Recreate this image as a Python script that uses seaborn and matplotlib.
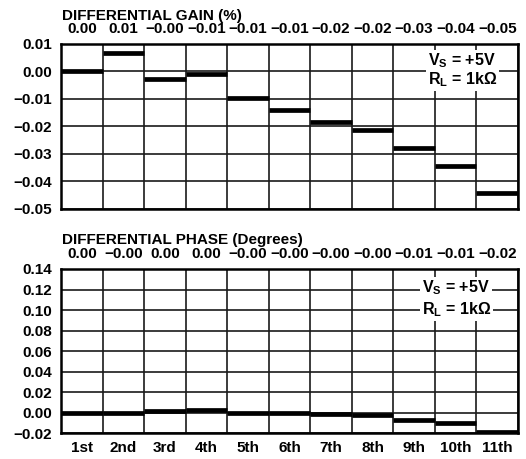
import matplotlib
matplotlib.use("Agg")
import matplotlib.pyplot as plt
import seaborn as sns
import pandas as pd
import numpy as np

# values
harmonics = ["1st", "2nd", "3rd", "4th", "5th", "6th", "7th", "8th", "9th", "10th", "11th"]
gain = [0.0, 0.0068, -0.0029, -0.0010, -0.0097, -0.0140, -0.0185, -0.0211, -0.0279, -0.0345, -0.0442]
phase = [0.0, 0.0, 0.0020, 0.0030, 0.0, -0.0002, -0.0015, -0.0020, -0.0067, -0.0102, -0.0184]
gain_labels = ["0.00", "0.01", "\u22120.00", "\u22120.01", "\u22120.01", "\u22120.01",
               "\u22120.02", "\u22120.02", "\u22120.03", "\u22120.04", "\u22120.05"]
phase_labels = ["0.00", "\u22120.00", "0.00", "0.00", "\u22120.00", "\u22120.00",
                "\u22120.00", "\u22120.00", "\u22120.01", "\u22120.01", "\u22120.02"]
gain_ticks = [-0.05, -0.04, -0.03, -0.02, -0.01, 0.00, 0.01]
phase_ticks = [-0.02, 0.00, 0.02, 0.04, 0.06, 0.08, 0.10, 0.12, 0.14]

FS = 11

sns.set_theme(style="white")
plt.rcParams["font.family"] = ["Liberation Sans", "DejaVu Sans"]
plt.rcParams["font.weight"] = "bold"
plt.rcParams["text.color"] = "black"
plt.rcParams["xtick.color"] = "black"
plt.rcParams["ytick.color"] = "black"
plt.rcParams["mathtext.fontset"] = "custom"
plt.rcParams["mathtext.rm"] = "Liberation Sans:bold"
plt.rcParams["mathtext.default"] = "rm"


def segments(values):
    # one flat segment per harmonic column, from left edge to right edge
    rows = []
    for i, v in enumerate(values):
        rows.append({"pos": i, "value": v, "seg": i})
        rows.append({"pos": i + 1, "value": v, "seg": i})
    return pd.DataFrame(rows)


def style_axes(ax, yticks):
    n = len(harmonics)
    ax.set_xlim(0, n)
    ax.set_ylim(yticks[0], yticks[-1])
    ax.set_xticks(range(n + 1))
    ax.set_xticks(np.arange(n) + 0.5, minor=True)
    ax.set_yticks(yticks)
    ax.set_yticklabels([f"{t:.2f}".replace("-", "\u2212") for t in yticks], fontsize=FS, fontweight="bold")
    ax.tick_params(which="both", length=0)
    ax.tick_params(axis="y", pad=6.5)
    ax.grid(True, which="major", color="#1a1a1a", linewidth=1.2)
    ax.set_axisbelow(True)
    for s in ax.spines.values():
        s.set_color("black")
        s.set_linewidth(1.8)
    for ln in ax.get_lines():
        ln.set_solid_capstyle("butt")
    ax.set_xlabel("")
    ax.set_ylabel("")


fig = plt.figure(figsize=(5.26, 4.59), dpi=100)
box = dict(facecolor="white", edgecolor="none", pad=1.5)

# Differential gain
ax1 = fig.add_axes([0.116, 0.5447, 0.8688, 0.3595])
sns.lineplot(data=segments(gain), x="pos", y="value", units="seg", estimator=None,
             color="black", linewidth=3.4, ax=ax1, zorder=3)
style_axes(ax1, gain_ticks)
ax1.xaxis.tick_top()
ax1.set_xticklabels([])
ax1.set_xticklabels(gain_labels, minor=True, fontsize=FS, fontweight="bold")
ax1.tick_params(axis="x", which="minor", pad=6)
ax1.text(0.003, 1.148, "DIFFERENTIAL GAIN (%)", transform=ax1.transAxes,
         fontsize=FS, fontweight="bold", ha="left", va="baseline")
ax1.text(0.803, 0.897, r"V$_\mathrm{S}$ = +5V", transform=ax1.transAxes, fontsize=FS + 0.5,
         fontweight="bold", ha="left", va="center", bbox=box, zorder=4)
ax1.text(0.803, 0.782, "R$_\\mathrm{L}$ = 1k\u03a9", transform=ax1.transAxes,
         fontsize=FS + 0.5, fontweight="bold", ha="left", va="center", bbox=box, zorder=4)

# Differential phase
ax2 = fig.add_axes([0.116, 0.0560, 0.8688, 0.358])
sns.lineplot(data=segments(phase), x="pos", y="value", units="seg", estimator=None,
             color="black", linewidth=3.4, ax=ax2, zorder=3)
style_axes(ax2, phase_ticks)
ax2.set_xticklabels([])
ax2.set_xticklabels(harmonics, minor=True, fontsize=FS, fontweight="bold")
ax2.tick_params(axis="x", which="minor", pad=5.5)
top = ax2.secondary_xaxis("top")
top.set_xticks(np.arange(len(harmonics)) + 0.5)
top.set_xticklabels(phase_labels, fontsize=FS, fontweight="bold")
top.tick_params(length=0, pad=6)
top.spines["top"].set_visible(False)
ax2.text(0.003, 1.149, "DIFFERENTIAL PHASE (Degrees)", transform=ax2.transAxes,
         fontsize=FS, fontweight="bold", ha="left", va="baseline")
ax2.text(0.79, 0.884, r"V$_\mathrm{S}$ = +5V", transform=ax2.transAxes, fontsize=FS + 0.5,
         fontweight="bold", ha="left", va="center", bbox=box, zorder=4)
ax2.text(0.79, 0.75, "R$_\\mathrm{L}$ = 1k\u03a9", transform=ax2.transAxes,
         fontsize=FS + 0.5, fontweight="bold", ha="left", va="center", bbox=box, zorder=4)

fig.savefig("out.png", dpi=100)
